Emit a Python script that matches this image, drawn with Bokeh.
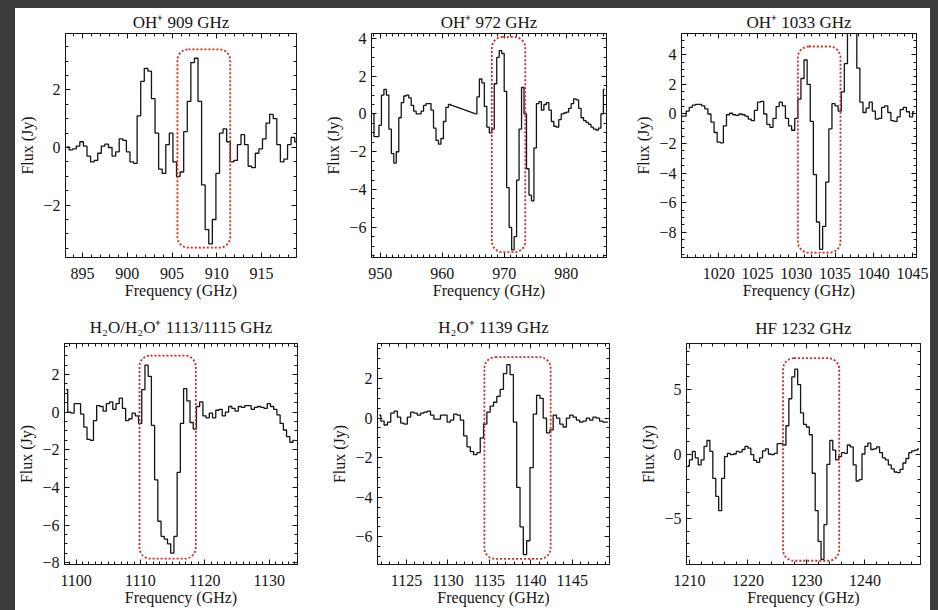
from bokeh.plotting import figure
from bokeh.models import BoxAnnotation, LinearAxis, SingleIntervalTicker, Range1d
from bokeh.layouts import column, row
from bokeh.embed import file_html
from bokeh.resources import INLINE

# ---------------- data ----------------
titles = ["OH\u207a 909 GHz", "OH\u207a 972 GHz", "OH\u207a 1033 GHz",
          "H\u2082O/H\u2082O\u207a 1113/1115 GHz", "H\u2082O\u207a 1139 GHz", "HF 1232 GHz"]

# channel grids: first channel centre (GHz) and channel width (GHz)
grid1 = (893.3, 0.4)
flux1 = [0.02, -0.08, -0.05, 0.05, 0.2, 0.05, -0.3, -0.5, -0.45, -0.2,
         0.05, 0.12, 0.0, -0.3, -0.15, 0.3, 0.25, -0.15, -0.5, -0.55,
         1.1, 2.3, 2.75, 2.65, 1.7, 0.5, -0.75, -0.9, 0.1, 0.5,
         -0.5, -1.0, -0.85, 0.55, 1.6, 2.95, 3.1, 1.6, -1.3, -2.85,
         -3.35, -2.5, -0.9, 0.5, 0.65, 0.2, -0.5, -0.45, 0.1, 0.45,
         0.1, -0.65, -0.7, -0.2, -0.05, 0.3, 0.85, 1.15, 1.0, 0.1,
         -0.5, -0.4, 0.1, 0.35, 0.2]

grid2a = (948.8, 0.4)
flux2a = [0.0, -1.2, -1.2, -0.6, 1.0, 1.3, 1.0, -0.8, -2.1, -2.6,
          -2.0, -0.2, 0.6, 0.95, 1.0, 0.85, 0.45, 0.15, 0.0, 0.0,
          0.15, 0.45, 0.55, 0.55, 0.2, -0.75, -1.4, -1.6, -1.3, -0.4,
          0.35, 0.5, 0.45]
grid2b = (965.4, 0.4)
flux2b = [0.0, 0.9, 1.85, 1.65, 0.4, -0.7, -1.0, -0.8, 1.6, 3.0,
          3.35, 3.2, 1.2, -3.9, -6.0, -7.2, -6.5, -3.5, -0.8, 1.4,
          0.0, -2.9, -4.3, -4.6, -1.8, 0.55, 0.65, 0.2, 0.5, 0.6,
          0.2, -0.4, -0.65, -0.7, -0.3, 0.0, 0.05, 0.1, 0.3, 0.55,
          0.8, 0.75, 0.3, -0.2, -0.35, -0.45, -0.55, -0.7, -0.8, -0.85,
          -0.75, 0.0, 1.3]

grid3 = (1015.2, 0.4)
flux3 = [-0.15, -0.15, 0.2, 0.45, 0.6, 0.65, 0.65, 0.55, 0.35, 0.0,
         -0.55, -1.25, -1.9, -1.95, -0.8, -0.05, 0.05, -0.05, -0.1, 0.0,
         -0.05, -0.15, -0.35, -0.45, 0.25, 0.8, 0.85, 0.0, -0.7, -0.9,
         -0.3, 0.5, 0.8, 0.55, -0.3, -0.8, -1.1, -0.3, 1.0, 2.4,
         3.65, 2.0, -0.5, -4.1, -7.3, -9.15, -7.6, -4.6, -1.0, 0.7,
         0.55, 0.2, 1.5, 3.4, 6.5, 7.0, 6.5, 3.1, 0.8, 0.1,
         0.4, 0.8, 0.2, -0.35, -0.3, 0.45, 0.55, 0.1, -0.45, -0.5,
         -0.2, 0.3, 0.45, 0.15, -0.2, 0.15]

grid4 = (1098.45, 0.5)
flux4 = [1.2, 0.0, -0.05, 0.45, 0.45, -0.1, -0.8, -1.45, -1.5, -0.45,
         0.35, 0.3, 0.05, 0.45, 0.55, 0.15, 0.45, 0.75, 0.2, -0.45,
         -0.35, -0.05, -0.2, -0.6, 1.2, 2.5, 1.9, -0.7, -3.6, -5.8,
         -6.6, -6.75, -7.0, -7.5, -6.6, -3.2, -0.6, 1.25, 0.6, -0.55,
         -0.9, 0.3, 0.55, -0.2, -0.3, -0.05, -0.3, 0.1, 0.15, -0.2,
         0.0, 0.3, 0.2, 0.05, 0.3, 0.25, 0.35, 0.35, 0.15, 0.25,
         0.3, 0.25, 0.2, 0.45, 0.3, 0.15, -0.15, -0.6, -0.95, -1.3,
         -1.6, -1.5]

grid5 = (1121.7, 0.4)
flux5 = [0.15, -0.15, -0.35, -0.2, 0.25, 0.35, 0.05, -0.25, -0.3, 0.05,
         0.3, 0.25, 0.15, 0.25, 0.3, 0.35, 0.15, -0.05, -0.05, 0.15,
         0.15, -0.2, -0.1, 0.2, 0.15, -0.1, -0.9, -1.45, -1.7, -1.85,
         -1.75, -1.0, -0.3, 0.3, 0.6, 0.8, 1.1, 1.45, 2.25, 2.7,
         2.2, -0.2, -3.5, -5.5, -6.9, -6.2, -2.5, 0.2, 1.15, 1.0,
         0.0, -0.75, -0.6, 0.15, 0.0, -0.3, -0.45, 0.0, 0.15, 0.05,
         -0.1, -0.2, -0.15, 0.0, -0.1, 0.05, 0.0, -0.15, -0.2, -0.2]

grid6 = (1209.75, 0.5)
flux6 = [-0.9, -0.45, 0.2, -0.3, -0.85, -0.45, 0.6, 1.05, 0.2, -1.9,
         -3.3, -4.4, -1.9, -0.2, 0.05, -0.05, 0.0, 0.2, 0.15, 0.35,
         0.6, 0.45, -0.05, -0.5, -0.65, -0.3, 0.25, 0.4, 0.0, -0.05,
         0.05, 0.8, 0.8, 0.7, 2.2, 4.3, 6.0, 6.6, 5.4, 3.2,
         2.3, 2.1, 1.5, -1.5, -4.4, -6.8, -8.2, -5.5, -0.8, 1.05,
         0.3, -0.45, -0.2, 0.1, 0.05, 0.7, 0.55, -0.85, -2.1, -2.0,
         0.0, 0.6, 0.85, 0.35, 0.4, 0.55, 0.1, -0.3, -0.45, -0.85,
         -1.15, -1.4, -1.45, -1.2, -0.7, -0.35, 0.1, 0.25, 0.3, 0.4]

# highlighted line windows: (left, right, bottom, top) in data units
boxes = [(905.6, 911.5, -3.48, 3.41),
         (968.0, 973.4, -7.32, 4.08),
         (1030.2, 1035.7, -9.37, 4.56),
         (1109.85, 1118.6, -7.79, 3.01),
         (1134.4, 1142.4, -7.12, 3.08),
         (1226.0, 1235.6, -8.31, 7.46)]

# axis ranges
xranges = [(893.1, 918.9), (948.6, 986.5), (1015.2, 1045.5),
           (1098.2, 1134.4), (1121.5, 1149.5), (1209.5, 1249.5)]
yranges = [(-3.82, 3.96), (-7.6, 4.26), (-9.7, 5.44),
           (-8.1, 3.65), (-7.4, 3.77), (-8.6, 8.6)]
xticks = [(5, 5), (10, 10), (5, 5), (10, 10), (5, 5), (10, 5)]
yticks = [(2, 4), (2, 4), (2, 4), (2, 4), (2, 4), (5, 5)]

# ---------------- layout / style ----------------
FONT = "Liberation Serif"
INK = "#141414"
RED = "#d0281e"
# width, height, left, right, top, bottom borders, title standoff
geom = [(300, 297, 50, 19, 25, 47, 4),
        (307, 297, 56, 16, 24, 48, 4),
        (308, 297, 59, 14, 23, 47, 4),
        (300, 305, 47, 18, 36, 43, 13),
        (307, 305, 62, 13, 38, 42, 13),
        (308, 305, 64, 10, 32, 46, 11)]

overrides = {v: "\u2212" + str(-v) for v in range(-20, 0)}


def channels(grid, flux):
    f0, df = grid
    return [f0 + df * i for i in range(len(flux))]


def style_axis(ax, labels=True):
    ax.axis_line_color = INK
    ax.axis_line_width = 1
    ax.major_tick_line_color = INK
    ax.minor_tick_line_color = INK
    ax.major_tick_in = 5
    ax.major_tick_out = 0
    ax.minor_tick_in = 3
    ax.minor_tick_out = 0
    if labels:
        ax.major_label_text_font = FONT
        ax.major_label_text_font_size = "16px"
        ax.major_label_text_color = INK
        ax.axis_label_text_font = FONT
        ax.axis_label_text_font_size = "16px"
        ax.axis_label_text_font_style = "normal"
        ax.axis_label_text_color = INK
        ax.major_label_overrides = overrides
    else:
        ax.major_label_text_color = None
        ax.major_label_text_alpha = 0
        ax.major_label_text_font_size = "0px"
        ax.major_label_standoff = 0


def make_panel(k, series):
    w, h, bl, br, bt, bb, ts = geom[k]
    p = figure(width=w, height=h, x_range=Range1d(*xranges[k]), y_range=Range1d(*yranges[k]),
               output_backend="svg", toolbar_location=None,
               min_border_left=bl, min_border_right=br, min_border_top=bt, min_border_bottom=bb,
               x_axis_label="Frequency (GHz)", y_axis_label="Flux (Jy)",
               title=titles[k])
    p.background_fill_color = "white"
    p.border_fill_color = "white"
    p.outline_line_color = INK
    p.xgrid.visible = False
    p.ygrid.visible = False
    p.title.text_font = FONT
    p.title.text_font_size = "17px"
    p.title.text_font_style = "normal"
    p.title.text_color = INK
    p.title.align = "center"
    p.title.standoff = ts

    xt = SingleIntervalTicker(interval=xticks[k][0], num_minor_ticks=xticks[k][1])
    yt = SingleIntervalTicker(interval=yticks[k][0], num_minor_ticks=yticks[k][1])
    xa = p.xaxis[0]
    ya = p.yaxis[0]
    xa.ticker = xt
    ya.ticker = yt
    style_axis(xa)
    style_axis(ya)
    xa.major_label_standoff = 10
    xa.axis_label_standoff = 0
    ya.major_label_standoff = 5
    ya.axis_label_standoff = 4

    top = LinearAxis(ticker=xt)
    right = LinearAxis(ticker=yt)
    style_axis(top, labels=False)
    style_axis(right, labels=False)
    p.add_layout(top, "above")
    p.add_layout(right, "right")

    for (x, y) in series:
        p.step(x, y, mode="center", line_color=INK, line_width=1.3)

    l, r, b, t = boxes[k]
    p.add_layout(BoxAnnotation(left=l, right=r, bottom=b, top=t,
                               fill_color=None, fill_alpha=0,
                               line_color=RED, line_alpha=1.0, line_width=1.8,
                               line_dash="2 2", border_radius=11))
    return p


x1 = channels(grid1, flux1)
x2a = channels(grid2a, flux2a)
x2b = channels(grid2b, flux2b)
x3 = channels(grid3, flux3)
x4 = channels(grid4, flux4)
x5 = channels(grid5, flux5)
x6 = channels(grid6, flux6)

p1 = make_panel(0, [(x1, flux1)])
p2 = make_panel(1, [(x2a, flux2a), (x2b, flux2b)])
# straight interpolated stretch between the two parts of the 972 GHz spectrum
p2.line([x2a[-1], x2b[0]], [flux2a[-1], flux2b[0]], line_color=INK, line_width=1.3)
p3 = make_panel(2, [(x3, flux3)])
p4 = make_panel(3, [(x4, flux4)])
p5 = make_panel(4, [(x5, flux5)])
p6 = make_panel(5, [(x6, flux6)])

r1 = row(p1, p2, p3, styles={"background-color": "white"})
r2 = row(p4, p5, p6, styles={"background-color": "white"})
layout = column(r1, r2, styles={"background-color": "white"})
layout.margin = (8, 0, 0, 15)

template = """
{% block preamble %}
<style>body { background-color: #3c3c3c; }</style>
{% endblock %}
"""

open("out.html", "w").write(file_html(layout, INLINE, title="Spectra", template=template))
